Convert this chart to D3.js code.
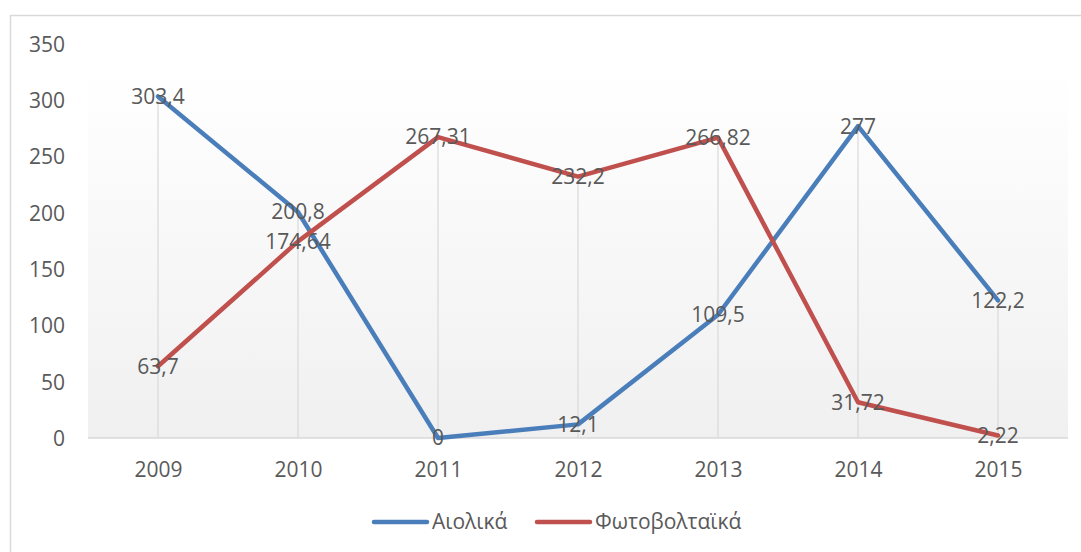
<!DOCTYPE html>
<html>
<head>
<meta charset="utf-8">
<script src="https://cdn.jsdelivr.net/npm/d3@7"></script>
<style>
  html, body { margin: 0; padding: 0; background: #fff; }
  svg { display: block; }
  text { font-family: "Open Sans", sans-serif; fill: #595959; }
</style>
</head>
<body>
<svg id="chart" width="1081" height="552"></svg>
<script>
const years = ["2009", "2010", "2011", "2012", "2013", "2014", "2015"];
const aiolika = [303.4, 200.8, 0, 12.1, 109.5, 277, 122.2];
const fotovoltaika = [63.7, 174.64, 267.31, 232.2, 266.82, 31.72, 2.22];
const seriesNames = ["Αιολικά", "Φωτοβολταϊκά"];
const seriesColors = ["#4a7ebb", "#c0504d"];
const yTicks = [0, 50, 100, 150, 200, 250, 300, 350];

const svg = d3.select("#chart");
const plot = { left: 88, right: 1068, top: 44, bottom: 438 };

const fmt = v => String(v).replace(".", ",");

// chart border
svg.append("rect")
  .attr("x", 10.5).attr("y", 15.5)
  .attr("width", 1080).attr("height", 560)
  .attr("fill", "#fff").attr("stroke", "#d9d9d9").attr("stroke-width", 1.5);

// gradient background
const defs = svg.append("defs");
const grad = defs.append("linearGradient").attr("id", "bg")
  .attr("x1", 0).attr("y1", 0).attr("x2", 0).attr("y2", 1);
grad.append("stop").attr("offset", "0%").attr("stop-color", "#ffffff");
grad.append("stop").attr("offset", "100%").attr("stop-color", "#f0f0f0");

const x = d3.scalePoint().domain(years).range([plot.left, plot.right]).padding(0.5);
const y = d3.scaleLinear().domain([0, 350]).range([plot.bottom, plot.top]);

svg.append("rect")
  .attr("x", plot.left).attr("y", 70)
  .attr("width", plot.right - plot.left).attr("height", plot.bottom - 70)
  .attr("fill", "url(#bg)");

// drop lines
svg.append("g").selectAll("line").data(years).join("line")
  .attr("x1", d => x(d)).attr("x2", d => x(d))
  .attr("y1", (d, i) => y(Math.max(aiolika[i], fotovoltaika[i])))
  .attr("y2", plot.bottom)
  .attr("stroke", "#d9d9d9").attr("stroke-width", 1.2);

// baseline
svg.append("line")
  .attr("x1", plot.left).attr("x2", plot.right)
  .attr("y1", y(0)).attr("y2", y(0))
  .attr("stroke", "#d9d9d9").attr("stroke-width", 1.5);

// y axis labels
const yAxis = d3.axisLeft(y).tickValues(yTicks).tickSize(0).tickPadding(0).tickFormat(d => d);
const yg = svg.append("g").attr("transform", "translate(65,0)").call(yAxis);
yg.select(".domain").remove();
yg.selectAll("text").style("font-family", "'Open Sans', sans-serif")
  .style("font-size", "21px").attr("fill", "#595959").attr("dy", "0.35em");

// x axis labels
const xAxis = d3.axisBottom(x).tickSize(0).tickPadding(0);
const xg = svg.append("g").attr("transform", `translate(0,${plot.bottom})`).call(xAxis);
xg.select(".domain").remove();
xg.selectAll("text").style("font-family", "'Open Sans', sans-serif")
  .style("font-size", "21px").attr("fill", "#595959").attr("y", 39).attr("dy", "0");

// lines
const line = d3.line().x((d, i) => x(years[i])).y(d => y(d));
[aiolika, fotovoltaika].forEach((s, k) => {
  svg.append("path").datum(s)
    .attr("d", line)
    .attr("fill", "none")
    .attr("stroke", seriesColors[k])
    .attr("stroke-width", 4.5)
    .attr("stroke-linejoin", "round")
    .attr("stroke-linecap", "round");
});

// data labels
[aiolika, fotovoltaika].forEach((s, k) => {
  svg.append("g").selectAll("text").data(s).join("text")
    .attr("x", (d, i) => x(years[i]))
    .attr("y", d => y(d))
    .attr("dy", "0.35em")
    .attr("text-anchor", "middle")
    .style("font-size", "21px")
    .text(d => fmt(d));
});

// legend
const legendItems = [
  { name: seriesNames[0], color: seriesColors[0], x0: 374 },
  { name: seriesNames[1], color: seriesColors[1], x0: 537 }
];
const lg = svg.append("g");
legendItems.forEach(it => {
  lg.append("line")
    .attr("x1", it.x0).attr("x2", it.x0 + 53)
    .attr("y1", 522).attr("y2", 522)
    .attr("stroke", it.color).attr("stroke-width", 4.5)
    .attr("stroke-linecap", "round");
  lg.append("text")
    .attr("x", it.x0 + 58).attr("y", 522).attr("dy", "0.35em")
    .style("font-size", "21px")
    .text(it.name);
});
</script>
</body>
</html>
